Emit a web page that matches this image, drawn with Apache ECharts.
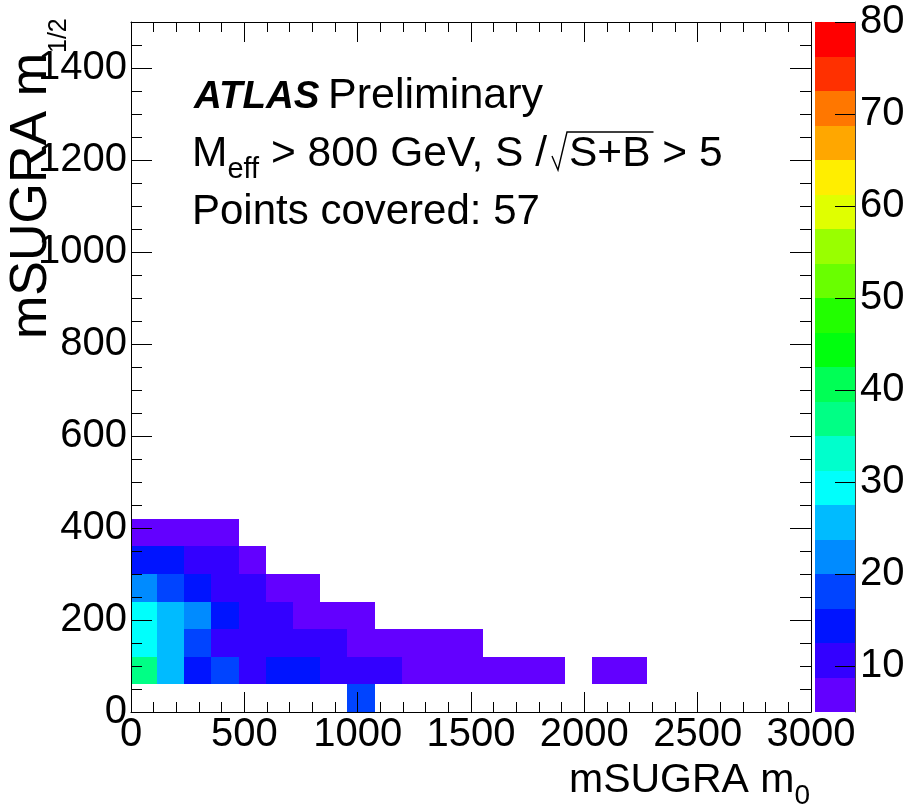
<!DOCTYPE html>
<html>
<head>
<meta charset="utf-8">
<script src="https://cdn.jsdelivr.net/npm/echarts@6/dist/echarts.min.js"></script>
<style>
  html, body { margin: 0; padding: 0; background: #fff; }
  #chart { width: 908px; height: 809px; }
</style>
</head>
<body>
<div id="chart"></div>
<script>
// ---- scan binning (GeV) ----
const m0BinLow = [-5, 115, 235, 355, 475, 595, 715, 835, 955, 1075, 1195, 1315, 1435, 1555, 1675, 1795, 1915, 2035, 2155];
const m0BinWidth = 120;
const m12BinLow = [0, 60, 120, 180, 240, 300, 360];
const m12BinWidth = 60;

// ---- S/sqrt(S+B) for Meff > 800 GeV, one array per m1/2 row (index = m0 column) ----
const sigRow0 = [null, null, null, null, null, null, null, null, 18.2, null, null, null, null, null, null, null, null, null, null];
const sigRow1 = [37.1, 25.6, 14.3, 18.4, 10.6, 14.8, 14.2, 11.3, 10.2, 9.6, 7.4, 7.1, 6.9, 6.6, 6.3, 6.0, null, 5.6, 5.4];
const sigRow2 = [29.8, 25.9, 17.6, 11.8, 11.2, 10.4, 9.9, 9.3, 7.9, 7.2, 6.6, 6.1, 5.7, null, null, null, null, null, null];
const sigRow3 = [29.1, 25.2, 21.9, 13.8, 11.4, 9.6, 8.1, 7.0, 6.0, null, null, null, null, null, null, null, null, null, null];
const sigRow4 = [21.6, 17.3, 13.7, 11.1, 9.4, 7.6, 6.3, null, null, null, null, null, null, null, null, null, null, null, null];
const sigRow5 = [15.1, 13.4, 11.2, 9.5, 6.8, null, null, null, null, null, null, null, null, null, null, null, null, null, null];
const sigRow6 = [7.9, 7.6, 7.1, 6.2, null, null, null, null, null, null, null, null, null, null, null, null, null, null, null];
const sigRows = [sigRow0, sigRow1, sigRow2, sigRow3, sigRow4, sigRow5, sigRow6];

// ---- colour contours (20 levels) ----
const zLevels = [5, 8.75, 12.5, 16.25, 20, 23.75, 27.5, 31.25, 35, 38.75, 42.5, 46.25, 50, 53.75, 57.5, 61.25, 65, 68.75, 72.5, 76.25, 80];
const zPalette = ['#6300ff', '#3300ff', '#0014ff', '#0044ff', '#008bff', '#00bbff', '#00fffc', '#00ffcc', '#00ff85', '#00ff55',
                  '#00ff0e', '#22ff00', '#69ff00', '#99ff00', '#e0ff00', '#ffee00', '#ffa700', '#ff7700', '#ff3000', '#ff0000'];
const zTickValues = [10, 20, 30, 40, 50, 60, 70, 80];

// ---- axis ranges ----
const m0Range = [0, 3000];
const m12Range = [0, 1500];

const FONT = '"Liberation Sans", Arial, Helvetica, sans-serif';
const measureCtx = document.createElement('canvas').getContext('2d');
function textWidth(str, size, weight, style) {
  measureCtx.font = (style || 'normal') + ' ' + (weight || 'normal') + ' ' + size + 'px ' + FONT;
  return measureCtx.measureText(str).width;
}
// canvas "middle" baseline sits this far (em) above the alphabetic baseline
const MID = 0.347;
// pos: position along the text direction; baseline: baseline position across it
function txt(str, pos, baseline, size, opts) {
  opts = opts || {};
  const rotated = !!opts.rotation;
  return {
    type: 'text',
    x: rotated ? baseline - MID * size : pos,
    y: rotated ? pos : baseline - MID * size,
    rotation: opts.rotation || 0,
    z: 50,
    silent: true,
    style: {
      text: str, fontFamily: FONT, fontSize: size,
      fontWeight: opts.weight || 'normal', fontStyle: opts.style || 'normal',
      fill: '#000', align: 'left', verticalAlign: 'middle'
    }
  };
}

// ---- heat cells ----
const cells = [];
sigRows.forEach(function (row, r) {
  row.forEach(function (v, c) {
    if (v != null) {
      cells.push([m0BinLow[c], m0BinLow[c] + m0BinWidth, m12BinLow[r], m12BinLow[r] + m12BinWidth, v]);
    }
  });
});

// snap a rectangle to whole pixels so neighbouring cells meet without seams
function snapRect(r) {
  const x0 = Math.round(r.x), y0 = Math.round(r.y);
  const x1 = Math.round(r.x + r.width), y1 = Math.round(r.y + r.height);
  return { x: x0, y: y0, width: x1 - x0, height: y1 - y0 };
}

function renderCell(params, api) {
  const a = api.coord([api.value(0), api.value(3)]);
  const b = api.coord([api.value(1), api.value(2)]);
  const cs = params.coordSys;
  const shape = echarts.graphic.clipRectByRect(
    { x: a[0], y: a[1], width: b[0] - a[0], height: b[1] - a[1] },
    { x: cs.x, y: cs.y, width: cs.width, height: cs.height });
  if (!shape) return;
  return { type: 'rect', shape: snapRect(shape), style: { fill: api.visual('color') } };
}

// ---- palette bar ----
const bands = [];
for (let i = 0; i < zPalette.length; i++) bands.push([i, zLevels[i], zLevels[i + 1]]);
function renderBand(params, api) {
  const a = api.coord([0, api.value(2)]);
  const b = api.coord([1, api.value(1)]);
  return { type: 'rect', shape: snapRect({ x: a[0], y: a[1], width: b[0] - a[0], height: b[1] - a[1] }),
           style: { fill: zPalette[api.value(0)] } };
}

const black = { color: '#000', width: 1 };
const labelStyle = { fontFamily: FONT, fontSize: 40, color: '#000' };

function fineAxis(extra) {
  return Object.assign({
    type: 'value', gridIndex: 0, z: 10,
    axisLine: { show: true, onZero: false, lineStyle: black },
    axisTick: { show: true, inside: true, length: 11, lineStyle: black },
    axisLabel: { show: false },
    splitLine: { show: false }
  }, extra);
}
function coarseAxis(extra) {
  return Object.assign({
    type: 'value', gridIndex: 0, z: 10,
    axisLine: { show: false, onZero: false },
    axisTick: { show: true, inside: true, length: 21, lineStyle: black },
    axisLabel: { show: false },
    splitLine: { show: false }
  }, extra);
}

// ---- annotation text ----
const graphics = [];
graphics.push(txt('ATLAS', 194, 111, 38.5, { weight: 'bold', style: 'italic' }));
graphics.push(txt('Preliminary', 328, 111, 43));

(function () {
  const base = 169;
  const fs = 42.5;
  let x = 192;
  graphics.push(txt('M', x, base, fs));
  x += textWidth('M', fs);
  graphics.push(txt('eff', x, base + 11, 29));
  x += textWidth('eff', 29);
  const mid = ' > 800 GeV, S /';
  graphics.push(txt(mid, x, base, fs));
  x += textWidth(mid, fs) + 5;
  const sb = 'S+B';
  const wsb = textWidth(sb, fs);
  const top = base - 37;
  graphics.push({
    type: 'polyline', z: 50, silent: true,
    shape: { points: [[x, base - 13], [x + 6, base + 1], [x + 15, top], [x + 17 + wsb + 3, top]] },
    style: { stroke: '#000', lineWidth: 1.4, fill: null }
  });
  x += 17;
  graphics.push(txt(sb, x, base, fs));
  x += wsb;
  graphics.push(txt(' > 5', x, base, fs));
})();

graphics.push(txt('Points covered: 57', 192, 227, 42));

// x-axis title
(function () {
  const main = 'mSUGRA m';
  const x0 = 569;
  graphics.push(txt(main, x0, 795, 41));
  graphics.push(txt('0', x0 + textWidth(main, 41), 806, 28));
})();

// y-axis title (rotated, reading bottom to top)
(function () {
  const main = 'mSUGRA m';
  const y0 = 339;
  graphics.push(txt(main, y0, 50, 52, { rotation: Math.PI / 2 }));
  graphics.push(txt('1/2', y0 - textWidth(main, 52), 68, 25, { rotation: Math.PI / 2 }));
})();

const option = {
  backgroundColor: '#fff',
  animation: false,
  grid: [
    { left: 131, top: 22, width: 680, height: 690 },
    { left: 815, top: 22, width: 40, height: 690 }
  ],
  xAxis: [
    {
      type: 'value', gridIndex: 0, position: 'bottom', min: m0Range[0], max: m0Range[1], interval: 500, z: 10,
      axisLine: { show: true, onZero: false, lineStyle: black },
      axisTick: { show: true, inside: true, length: 20, lineStyle: black },
      minorTick: { show: true, splitNumber: 5, length: 10, lineStyle: black },
      axisLabel: Object.assign({ margin: 3, interval: 0, formatter: function (v) { return String(v); } }, labelStyle),
      splitLine: { show: false }
    },
    {
      type: 'value', gridIndex: 0, position: 'top', min: m0Range[0], max: m0Range[1], interval: 500, z: 10,
      axisLine: { show: true, onZero: false, lineStyle: black },
      axisTick: { show: true, inside: true, length: 20, lineStyle: black },
      minorTick: { show: true, splitNumber: 5, length: 10, lineStyle: black },
      axisLabel: { show: false },
      splitLine: { show: false }
    },
    { type: 'value', gridIndex: 1, min: 0, max: 1, show: false }
  ],
  yAxis: [
    fineAxis({ position: 'left', min: m12Range[0], max: m12Range[1], interval: 50 }),
    coarseAxis({
      position: 'left', min: m12Range[0], max: m12Range[1], interval: 200,
      axisLabel: Object.assign({
        show: true, margin: 4, interval: 0,
        formatter: function (v) { return v % 200 === 0 ? String(v) : ''; }
      }, labelStyle)
    }),
    fineAxis({ position: 'right', min: m12Range[0], max: m12Range[1], interval: 50 }),
    coarseAxis({ position: 'right', min: m12Range[0], max: m12Range[1], interval: 200 }),
    {
      type: 'value', gridIndex: 1, position: 'right', min: zLevels[0], max: zLevels[zLevels.length - 1], z: 10,
      axisLine: { show: true, onZero: false, lineStyle: { color: '#444', width: 1 } },
      axisTick: { show: true, inside: true, length: 20, customValues: zTickValues, lineStyle: black },
      axisLabel: Object.assign({ margin: 5, customValues: zTickValues }, labelStyle),
      splitLine: { show: false }
    }
  ],
  visualMap: {
    type: 'piecewise', show: false, seriesIndex: 0, dimension: 4,
    pieces: zPalette.map(function (c, i) { return { gte: zLevels[i], lt: zLevels[i + 1] + (i === zPalette.length - 1 ? 1e-9 : 0), color: c }; })
  },
  series: [
    {
      type: 'custom', name: 'significance', xAxisIndex: 0, yAxisIndex: 0, z: 2, silent: true,
      renderItem: renderCell, encode: { x: [0, 1], y: [2, 3] }, data: cells
    },
    {
      type: 'custom', name: 'palette', xAxisIndex: 2, yAxisIndex: 4, z: 2, silent: true,
      renderItem: renderBand, encode: { x: [], y: [1, 2] }, data: bands
    }
  ],
  graphic: graphics
};

const chart = echarts.init(document.getElementById('chart'));
chart.setOption(option);
</script>
</body>
</html>
